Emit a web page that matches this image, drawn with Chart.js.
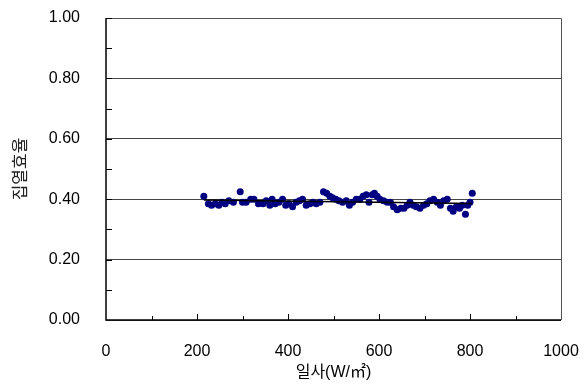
<!DOCTYPE html>
<html><head><meta charset="utf-8">
<script src="https://cdn.jsdelivr.net/npm/chart.js@4/dist/chart.umd.min.js"></script>
<style>html,body{margin:0;padding:0;background:#fff}#w{width:585px;height:385px}</style>
</head><body><div id="w"><canvas id="c" width="585" height="385"></canvas></div>
<script>
const irradiance = [215,225,232,240,248,255,262,270,280,295,300,308,318,325,335,345,352,360,365,372,380,388,395,402,410,418,425,432,440,448,455,462,470,478,485,492,498,505,512,520,528,535,542,550,558,565,572,578,585,590,596,602,610,618,625,632,640,648,655,662,668,675,682,690,698,705,712,720,728,735,742,750,757,763,770,777,783,790,795,800,805];
const efficiency = [0.41,0.385,0.38,0.385,0.38,0.39,0.385,0.395,0.39,0.425,0.39,0.39,0.40,0.40,0.385,0.385,0.395,0.38,0.40,0.385,0.39,0.40,0.38,0.385,0.375,0.39,0.395,0.40,0.38,0.385,0.39,0.385,0.39,0.425,0.42,0.41,0.405,0.40,0.395,0.39,0.395,0.38,0.39,0.40,0.40,0.41,0.415,0.39,0.415,0.42,0.41,0.40,0.395,0.39,0.39,0.375,0.365,0.37,0.37,0.38,0.39,0.38,0.375,0.37,0.38,0.385,0.395,0.40,0.39,0.38,0.395,0.40,0.37,0.36,0.375,0.37,0.38,0.35,0.38,0.39,0.42];
const trendX = [215, 805];
const trendY = [0.397, 0.386];
const xTicks = [0,200,400,600,800,1000];
const yTicks = [0,0.2,0.4,0.6,0.8,1.0];
const xTitle = '일사(W/㎡)';
const yTitle = '집열효율';

const FONT = "'Liberation Sans','Noto Sans CJK KR',sans-serif";

const frame = {
  id:'frame',
  afterDraw(chart){
    const {ctx, chartArea:a, scales:{x,y}} = chart;
    ctx.save();
    ctx.strokeStyle='#000'; ctx.lineWidth=1.5;
    ctx.beginPath();
    ctx.moveTo(a.left, a.top); ctx.lineTo(a.left, a.bottom); ctx.lineTo(a.right, a.bottom);
    ctx.stroke();
    ctx.strokeStyle='#555'; ctx.lineWidth=1;
    ctx.beginPath();
    ctx.moveTo(a.left, a.top+0.5); ctx.lineTo(a.right+0.5, a.top+0.5); ctx.lineTo(a.right+0.5, a.bottom);
    ctx.stroke();
    ctx.strokeStyle='#000'; ctx.lineWidth=1;
    ctx.beginPath();
    for(let v=100; v<1000; v+=100){
      const px=Math.round(x.getPixelForValue(v))+0.5;
      ctx.moveTo(px,a.bottom); ctx.lineTo(px,a.bottom-(v%200===0?6:4));
    }
    for(let v=0.1; v<1; v+=0.1){
      const py=Math.round(y.getPixelForValue(v))+0.5;
      ctx.moveTo(a.left,py); ctx.lineTo(a.left+6,py);
    }
    ctx.stroke();
    ctx.restore();
  }
};

new Chart(document.getElementById('c'), {
  data:{datasets:[
    {type:'line', data: trendX.map((v,i)=>({x:v,y:trendY[i]})), borderColor:'#000', borderWidth:1.5, pointRadius:0, fill:false, order:0},
    {type:'scatter', data: irradiance.map((v,i)=>({x:v,y:efficiency[i]})), backgroundColor:'#000080', borderColor:'#000080', pointRadius:3.5, pointBorderWidth:0, order:1}
  ]},
  options:{
    responsive:false, animation:false,
    layout:{padding:{left:0,right:24,top:18,bottom:0}},
    plugins:{legend:{display:false}, tooltip:{enabled:false}},
    scales:{
      x:{type:'linear', min:0, max:1000,
        afterBuildTicks:s=>{s.ticks=xTicks.map(v=>({value:v}));},
        afterFit:s=>{s.height=65; s.paddingLeft=0; s.paddingRight=0;},
        grid:{display:false, drawTicks:false}, border:{display:false},
        ticks:{color:'#000', font:{family:FONT,size:16}, padding:22, maxRotation:0, callback:v=>String(v)},
        title:{display:true, text:xTitle, color:'#000', font:{family:FONT,size:16}, padding:{top:0,bottom:3}}
      },
      y:{type:'linear', min:0, max:1,
        afterBuildTicks:s=>{s.ticks=yTicks.map(v=>({value:v}));},
        afterFit:s=>{s.width=106; s.paddingTop=0; s.paddingBottom=0;},
        grid:{color:'#444', lineWidth:1, drawTicks:false}, border:{display:false},
        ticks:{color:'#000', font:{family:FONT,size:16}, padding:26, callback:v=>Number(v).toFixed(2)},
        title:{display:true, text:yTitle, color:'#222', font:{family:FONT,size:17}, padding:{top:11,bottom:0}}
      }
    }
  },
  plugins:[frame]
});
</script></body></html>
